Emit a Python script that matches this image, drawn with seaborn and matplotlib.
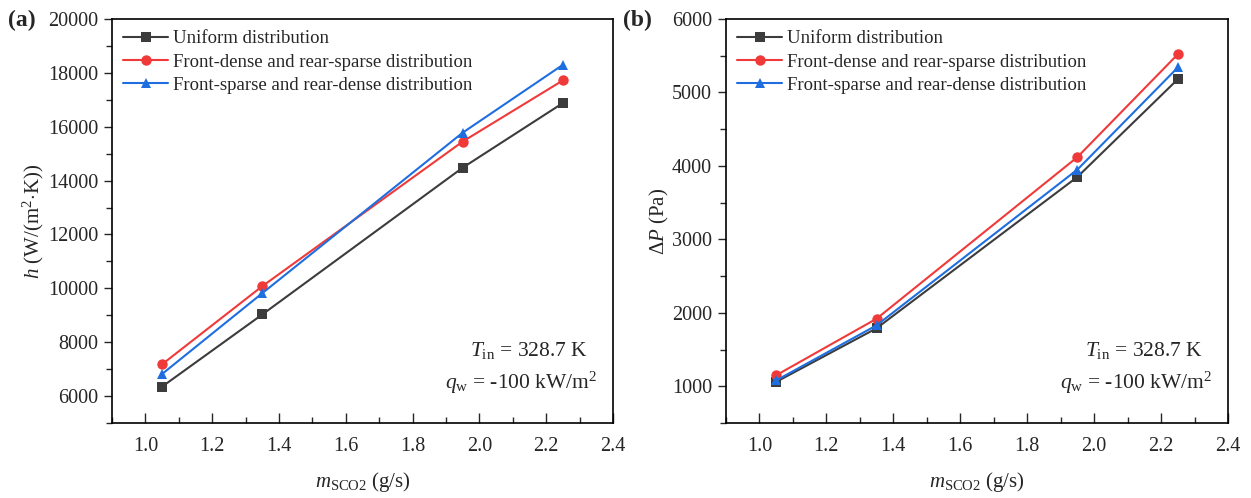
import numpy as np
import pandas as pd
import seaborn as sns
import matplotlib.pyplot as plt
from matplotlib.ticker import MultipleLocator

# data
mass_flow = [1.05, 1.35, 1.95, 2.25]
cases = ["Uniform distribution",
         "Front-dense and rear-sparse distribution",
         "Front-sparse and rear-dense distribution"]
h_uniform = [6350, 9030, 14480, 16880]
h_front_dense = [7180, 10080, 15450, 17720]
h_front_sparse = [6820, 9820, 15780, 18300]
dp_uniform = [1060, 1790, 3850, 5180]
dp_front_dense = [1150, 1920, 4120, 5520]
dp_front_sparse = [1080, 1830, 3950, 5340]

colors = ["#3c3c3c", "#f03a3a", "#1f6ee0"]
markers = ["s", "o", "^"]

sns.set_theme(style="white")
plt.rcParams["font.family"] = ["Liberation Serif", "DejaVu Serif"]
plt.rcParams["mathtext.fontset"] = "custom"
plt.rcParams["mathtext.rm"] = "Liberation Serif"
plt.rcParams["mathtext.it"] = "Liberation Serif:italic"
plt.rcParams["mathtext.bf"] = "Liberation Serif:bold"


def long_form(series):
    rows = []
    for name, vals in zip(cases, series):
        for x, v in zip(mass_flow, vals):
            rows.append({"m": x, "val": v, "case": name})
    return pd.DataFrame(rows)


def draw_panel(ax, df, ylim, ymajor, yminor, ylabel):
    sns.lineplot(data=df, x="m", y="val", hue="case", style="case",
                 hue_order=cases, style_order=cases,
                 palette=dict(zip(cases, colors)),
                 markers=dict(zip(cases, markers)), dashes=False,
                 markersize=7.5, markeredgewidth=0, linewidth=1.5, ax=ax)
    ax.set_xlim(0.9, 2.4)
    ax.set_ylim(*ylim)
    ax.xaxis.set_major_locator(MultipleLocator(0.2))
    ax.xaxis.set_minor_locator(MultipleLocator(0.1))
    ax.yaxis.set_major_locator(MultipleLocator(ymajor))
    ax.yaxis.set_minor_locator(MultipleLocator(yminor))
    ax.tick_params(axis="x", which="both", direction="in", bottom=True, top=False,
                   labelsize=14.5, pad=10)
    ax.tick_params(axis="x", which="major", length=7, width=1)
    ax.tick_params(axis="x", which="minor", length=4, width=1)
    ax.tick_params(axis="y", which="both", direction="out", left=True, right=False,
                   labelsize=14.5, pad=4)
    ax.tick_params(axis="y", which="major", length=6, width=1)
    ax.tick_params(axis="y", which="minor", length=4, width=1)
    for sp in ax.spines.values():
        sp.set_color("black")
        sp.set_linewidth(1.2)
    ax.set_xlabel(r"$m_{\mathrm{SCO2}}$ (g/s)", fontsize=15, labelpad=10)
    ax.set_ylabel(ylabel, fontsize=15, labelpad=1)
    ax.legend(loc="upper left", frameon=False, fontsize=13.5, handlelength=2.4,
              handletextpad=0.25, labelspacing=0.33, borderaxespad=0.2)
    ax.text(0.95, 0.18, r"$T_{\mathrm{in}}$ = 328.7 K", transform=ax.transAxes,
            ha="right", va="center", fontsize=15.5)
    ax.text(0.968, 0.10, r"$q_{\mathrm{w}}$ = -100 kW/m$^2$", transform=ax.transAxes,
            ha="right", va="center", fontsize=15.5)


fig = plt.figure(figsize=(12.51, 4.98), dpi=100)
W, H = 1251, 498
ax1 = fig.add_axes([112 / W, 75 / H, 501 / W, 404 / H])
ax2 = fig.add_axes([726 / W, 75 / H, 502 / W, 404 / H])

draw_panel(ax1, long_form([h_uniform, h_front_dense, h_front_sparse]),
           (5000, 20000), 2000, 1000, r"$h$ (W/(m$^2$$\cdot$K))")
draw_panel(ax2, long_form([dp_uniform, dp_front_dense, dp_front_sparse]),
           (500, 6000), 1000, 500, r"$\Delta P$ (Pa)")

fig.text(8 / W, 1 - 20 / H, "(a)", fontsize=17, fontweight="bold", va="center")
fig.text(623 / W, 1 - 20 / H, "(b)", fontsize=17, fontweight="bold", va="center")

fig.savefig("out.png", dpi=100)
